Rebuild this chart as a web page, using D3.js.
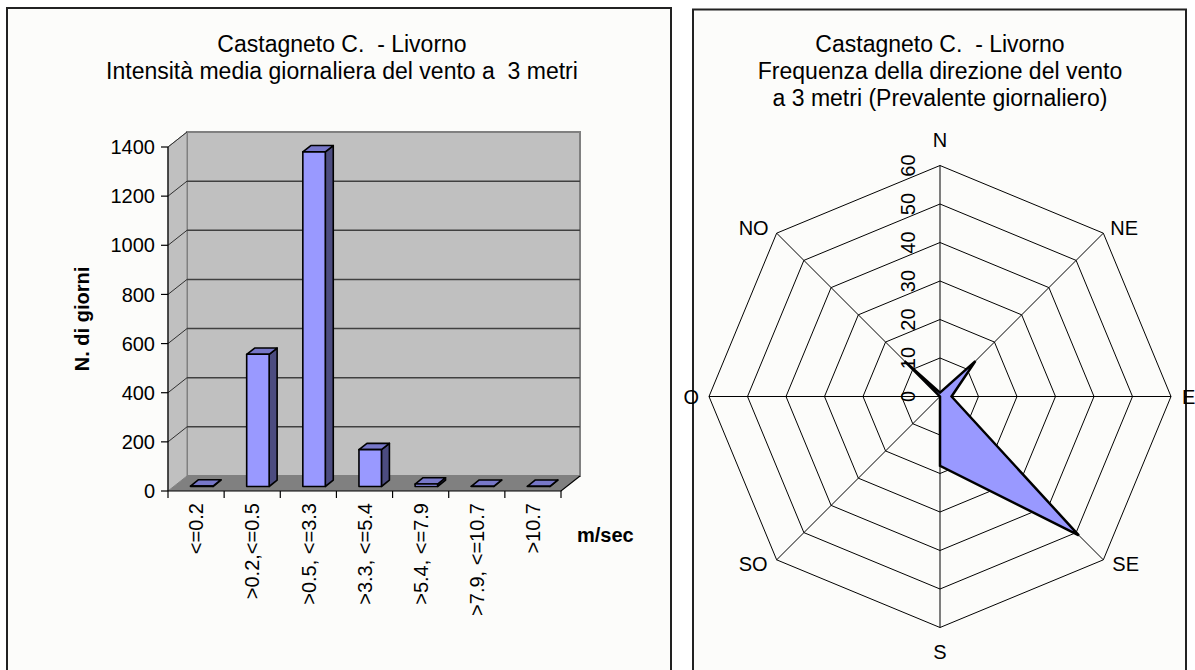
<!DOCTYPE html>
<html>
<head>
<meta charset="utf-8">
<script src="https://cdn.jsdelivr.net/npm/d3@7"></script>
<style>
  html, body { margin: 0; padding: 0; background: #ffffff; }
  svg { display: block; }
  text { font-family: "Liberation Sans", Arial, sans-serif; fill: #000; white-space: pre; }
</style>
</head>
<body>
<svg id="chart" width="1195" height="670"></svg>
<script>
// Wind speed classes (m/sec) and number of days in each class
const speedClasses = ["<=0.2", ">0.2,<=0.5", ">0.5, <=3.3", ">3.3, <=5.4", ">5.4, <=7.9", ">7.9, <=10.7", ">10.7"];
const dayCounts = [2, 538, 1362, 150, 10, 1, 1];
const countTicks = [0, 200, 400, 600, 800, 1000, 1200, 1400];

// Prevailing daily wind direction frequency (%)
const directions = ["N", "NE", "E", "SE", "S", "SO", "O", "NO"];
const directionFreq = [1, 13, 3, 51, 18, 0, 0, 13];
const freqTicks = [0, 10, 20, 30, 40, 50, 60];

const barTitle = ["Castagneto C.  - Livorno", "Intensità media giornaliera del vento a  3 metri"];
const roseTitle = ["Castagneto C.  - Livorno", "Frequenza della direzione del vento", "a 3 metri (Prevalente giornaliero)"];

const svg = d3.select("#chart");
const FS = 20;
const TFS = 23;

// ---------- panels ----------
svg.append("rect").attr("x", 7).attr("y", 8).attr("width", 664).attr("height", 680)
  .attr("fill", "#fcfcfa").attr("stroke", "#222").attr("stroke-width", 2);
svg.append("rect").attr("x", 693).attr("y", 9.5).attr("width", 493).attr("height", 680)
  .attr("fill", "#fcfcfa").attr("stroke", "#222").attr("stroke-width", 2);

// ---------- left: 3D column chart ----------
const L = { x0: 168, x1: 561, yBase: 491, yTop: 147, dx: 19, dy: -15 };
const x = d3.scaleBand().domain(speedClasses).range([L.x0, L.x1]);
const y = d3.scaleLinear().domain([0, 1400]).range([L.yBase, L.yTop]);

const g = svg.append("g");

// back wall
g.append("rect")
  .attr("x", L.x0 + L.dx).attr("y", y(1400) + L.dy)
  .attr("width", L.x1 - L.x0).attr("height", y(0) - y(1400))
  .attr("fill", "#c0c0c0").attr("stroke", "#808080").attr("stroke-width", 2);
// side wall
g.append("polygon")
  .attr("points", [[L.x0, y(1400)], [L.x0 + L.dx, y(1400) + L.dy], [L.x0 + L.dx, y(0) + L.dy], [L.x0, y(0)]].join(" "))
  .attr("fill", "#c0c0c0").attr("stroke", "#808080").attr("stroke-width", 1);
// floor
g.append("polygon")
  .attr("points", [[L.x0, y(0)], [L.x1, y(0)], [L.x1 + L.dx, y(0) + L.dy], [L.x0 + L.dx, y(0) + L.dy]].join(" "))
  .attr("fill", "#808080");

// gridlines on back wall and side wall
const grid = countTicks.filter(d => d > 0 && d < 1400);
g.selectAll(".gridBack").data(grid).join("line")
  .attr("x1", L.x0 + L.dx).attr("x2", L.x1 + L.dx)
  .attr("y1", d => y(d) + L.dy).attr("y2", d => y(d) + L.dy)
  .attr("stroke", "#404040").attr("stroke-width", 1.5);
g.selectAll(".gridSide").data(countTicks.filter(d => d > 0)).join("line")
  .attr("x1", L.x0).attr("x2", L.x0 + L.dx)
  .attr("y1", d => y(d)).attr("y2", d => y(d) + L.dy)
  .attr("stroke", "#303030").attr("stroke-width", 1);

// columns
const bw = x.bandwidth() * 0.4;
const f0 = 0.3, fd = 0.42;
const colG = g.selectAll(".col").data(speedClasses.map((c, i) => ({ c, v: dayCounts[i] }))).join("g");
colG.each(function (d) {
  const gg = d3.select(this);
  const cx = x(d.c) + x.bandwidth() / 2 + L.dx * f0;
  const oy = L.dy * f0;
  const ddx = L.dx * fd, ddy = L.dy * fd;
  const xl = cx - bw / 2, xr = cx + bw / 2;
  const yb = y(0) + oy, yt = y(d.v) + oy;
  const style = s => s.attr("stroke", "#000").attr("stroke-width", 1.6).attr("stroke-linejoin", "round");
  gg.append("polygon").attr("points", [[xr, yb], [xr + ddx, yb + ddy], [xr + ddx, yt + ddy], [xr, yt]].join(" "))
    .attr("fill", "#4c4c80").call(style);
  gg.append("polygon").attr("points", [[xl, yt], [xr, yt], [xr + ddx, yt + ddy], [xl + ddx, yt + ddy]].join(" "))
    .attr("fill", "#7777c8").call(style);
  gg.append("rect").attr("x", xl).attr("y", yt).attr("width", bw).attr("height", Math.max(0, yb - yt))
    .attr("fill", "#9999ff").call(style);
});

// axes
g.append("line").attr("x1", L.x0).attr("x2", L.x0).attr("y1", y(1400)).attr("y2", y(0))
  .attr("stroke", "#000").attr("stroke-width", 1.2);
g.append("polyline").attr("points", [[L.x0, y(0)], [L.x1, y(0)], [L.x1 + L.dx, y(0) + L.dy]].join(" "))
  .attr("fill", "none").attr("stroke", "#000").attr("stroke-width", 1.2);
g.selectAll(".ytick").data(countTicks).join("line")
  .attr("x1", L.x0 - 7).attr("x2", L.x0).attr("y1", d => y(d)).attr("y2", d => y(d))
  .attr("stroke", "#000").attr("stroke-width", 1.2);
g.selectAll(".ylab").data(countTicks).join("text")
  .attr("x", 155).attr("y", d => y(d)).attr("dy", "0.36em")
  .attr("text-anchor", "end").attr("font-size", FS).text(d => d);
const bounds = speedClasses.map(c => x(c)).concat([L.x1]);
g.selectAll(".xtick").data(bounds).join("line")
  .attr("x1", d => d).attr("x2", d => d).attr("y1", y(0)).attr("y2", y(0) + 7)
  .attr("stroke", "#000").attr("stroke-width", 1.2);
g.selectAll(".xlab").data(speedClasses).join("text")
  .attr("transform", d => `translate(${x(d) + x.bandwidth() / 2},503) rotate(-90)`)
  .attr("dy", "0.36em").attr("text-anchor", "end").attr("font-size", FS).text(d => d);

g.append("text").attr("transform", "translate(82,319) rotate(-90)")
  .attr("dy", "0.36em").attr("text-anchor", "middle").attr("font-size", FS).attr("font-weight", "bold")
  .text("N. di giorni");
g.append("text").attr("x", 577).attr("y", 542).attr("font-size", FS).attr("font-weight", "bold").text("m/sec");

g.selectAll(".title").data(barTitle).join("text")
  .attr("x", 342).attr("y", (d, i) => 52 + i * 27)
  .attr("text-anchor", "middle").attr("font-size", TFS).text(d => d);

// ---------- right: radar of direction frequency ----------
const C = { cx: 940, cy: 396.5, R: 231 };
const r = d3.scaleLinear().domain([0, 60]).range([0, C.R]);
const ang = d3.scaleLinear().domain([0, directions.length]).range([0, 2 * Math.PI]);
const pt = (i, v) => [C.cx + r(v) * Math.sin(ang(i)), C.cy - r(v) * Math.cos(ang(i))];

const rg = svg.append("g");
rg.selectAll(".ring").data(freqTicks.filter(d => d > 0)).join("polygon")
  .attr("points", v => directions.map((_, i) => pt(i, v)).join(" "))
  .attr("fill", "none").attr("stroke", "#000").attr("stroke-width", 1);
rg.selectAll(".spoke").data(directions).join("line")
  .attr("x1", C.cx).attr("y1", C.cy)
  .attr("x2", (d, i) => pt(i, 60)[0]).attr("y2", (d, i) => pt(i, 60)[1])
  .attr("stroke", "#000").attr("stroke-width", 1);

rg.append("polygon")
  .attr("points", directionFreq.map((v, i) => pt(i, v)).join(" "))
  .attr("fill", "#9999ff").attr("stroke", "#000").attr("stroke-width", 2.5).attr("stroke-linejoin", "miter");

rg.selectAll(".rlab").data(freqTicks).join("text")
  .attr("transform", d => `translate(908,${C.cy - r(d)}) rotate(-90)`)
  .attr("dy", "0.36em").attr("text-anchor", "middle").attr("font-size", FS).text(d => d);

// direction labels placed just outside each outer vertex
const labelPos = {
  N: [0, -19, "middle"], NE: [7, 2, "start"], E: [11, 7, "start"], SE: [9, 11, "start"],
  S: [0, 31, "middle"], SO: [-9, 11, "end"], O: [-10, 7, "end"], NO: [-8, 2, "end"]
};
rg.selectAll(".dlab").data(directions).join("text")
  .attr("x", (d, i) => pt(i, 60)[0] + labelPos[d][0])
  .attr("y", (d, i) => pt(i, 60)[1] + labelPos[d][1])
  .attr("text-anchor", d => labelPos[d][2]).attr("font-size", FS).text(d => d);

rg.selectAll(".title").data(roseTitle).join("text")
  .attr("x", 940).attr("y", (d, i) => 52 + i * 27)
  .attr("text-anchor", "middle").attr("font-size", TFS).text(d => d);
</script>
</body>
</html>
